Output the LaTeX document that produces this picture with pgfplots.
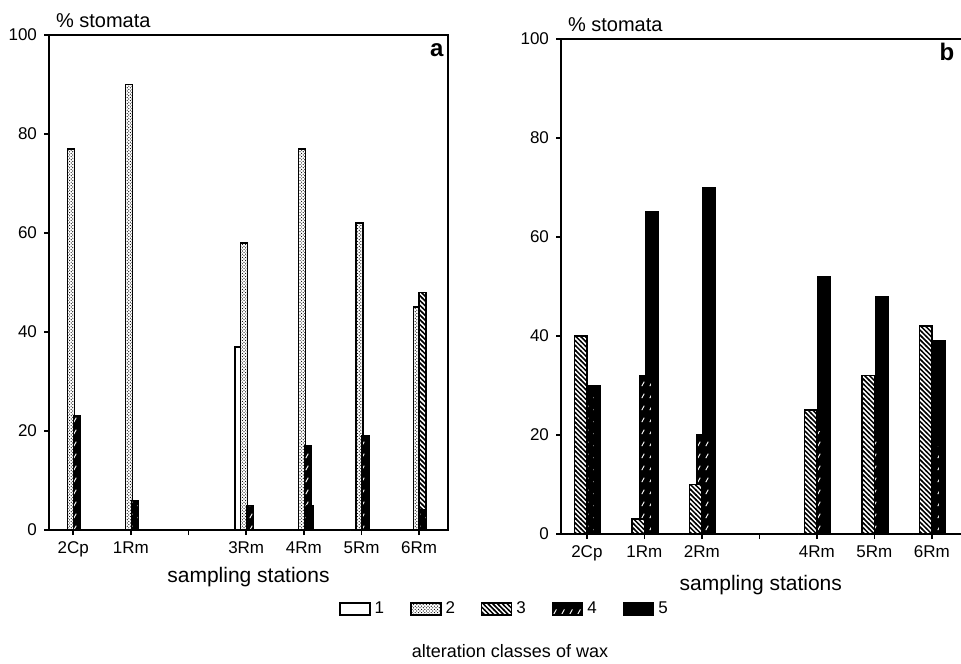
\documentclass[border=0pt]{standalone}
\usepackage{fontspec}
\setmainfont{Liberation Sans}
\usepackage{pgfplots}
\pgfplotsset{compat=1.18}
\usepackage{pgfplotstable}
\usetikzlibrary{patterns}

\pgfdeclarepatternformonly{stipple}{\pgfqpoint{-0.5pt}{-0.5pt}}{\pgfqpoint{2.5pt}{2.5pt}}{\pgfqpoint{1.6pt}{1.6pt}}{%
  \pgfpathcircle{\pgfqpoint{0.4pt}{0.4pt}}{0.3pt}%
  \pgfpathcircle{\pgfqpoint{1.2pt}{1.2pt}}{0.3pt}%
  \pgfusepath{fill}}
\pgfdeclarepatternformonly{hatch}{\pgfqpoint{-1pt}{-1pt}}{\pgfqpoint{3.4pt}{3.4pt}}{\pgfqpoint{2.4pt}{2.4pt}}{%
  \pgfsetlinewidth{0.75pt}%
  \pgfpathmoveto{\pgfqpoint{-0.2pt}{2.6pt}}%
  \pgfpathlineto{\pgfqpoint{2.6pt}{-0.2pt}}%
  \pgfusepath{stroke}}
\pgfdeclarepatternformonly{sparsedash}{\pgfqpoint{0pt}{0pt}}{\pgfqpoint{4pt}{6pt}}{\pgfqpoint{4pt}{6pt}}{%
  \pgfsetlinewidth{0.5pt}%
  \pgfpathmoveto{\pgfqpoint{1.0pt}{1pt}}%
  \pgfpathlineto{\pgfqpoint{2.4pt}{3.4pt}}%
  \pgfusepath{stroke}}

\pgfplotsset{
  legimg/.style={legend image code/.code={\draw[##1] (0pt,-3pt) rectangle (15pt,3pt);}},
  c1/.style={draw=black, fill=white, line width=0.75pt, legimg},
  c2/.style={draw=black, fill=white, line width=0.75pt, postaction={pattern=stipple}, legimg},
  c3/.style={draw=black, fill=white, line width=0.75pt, postaction={pattern=hatch}, legimg},
  c4/.style={draw=black, fill=black, line width=0.75pt, postaction={pattern=sparsedash, pattern color=white}, legimg},
  c5/.style={draw=black, fill=black, line width=0.75pt, legimg},
  panel/.style={
    scale only axis, ybar, ymin=0, ymax=100,
    xtick={0,...,6}, ytick={0,20,...,100},
    tick pos=left, tick align=outside, major tick length=2.5pt,
    axis line style={line width=0.9pt},
    every tick/.style={black, line width=0.8pt},
    ticklabel style={font=\fontsize{8.5}{10}\selectfont},
    /pgf/number format/assume math mode=true,
    every axis y label/.style={at={(axis description cs:0,1)}, anchor=base west, yshift=3.5pt, font=\fontsize{10}{12}\selectfont},
    ylabel={\% stomata},
  },
}

\pgfplotstableread{
x c1 c2 c3 c4 c5
0 0 77 0 23 0
1 0 90 0 6 0
3 37 58 0 5 0
4 0 77 0 17 5
5 0 62 0 19 0
6 0 45 48 4 0
}\dataA

\pgfplotstableread{
x c1 c2 c3 c4 c5
0 0 0 40 28 30
1 0 0 3 32 65
2 0 0 10 20 70
4 0 0 25 21 52
5 0 0 32 19 48
6 0 0 42 18 39
}\dataB

\begin{document}
\begin{tikzpicture}
\useasboundingbox (0,0) rectangle (480.5pt,331.5pt);

\begin{axis}[panel,
  at={(24.5pt,66.5pt)}, anchor=south west,
  width=199.5pt, height=247.5pt,
  xmin=-0.42, xmax=6.5,
  xticklabels={2Cp,1Rm,,3Rm,4Rm,5Rm,6Rm},
  bar width=3.5pt,
  xlabel={sampling stations},
  every axis x label/.style={at={(axis description cs:0.5,0)}, anchor=center, yshift=-23.5pt, font=\fontsize{10.5}{12}\selectfont},
  legend columns=5,
  legend style={at={(axis description cs:1.144,-0.1596)}, anchor=center, draw=none, fill=none,
    font=\fontsize{8.5}{10}\selectfont,
    /tikz/every even column/.append style={column sep=11pt}},
]
\addplot[c1, bar shift=-3.75pt] table[x=x,y=c1]{\dataA};
\addplot[c2, bar shift=-1pt] table[x=x,y=c2]{\dataA};
\addplot[c3, bar shift=1.75pt] table[x=x,y=c3]{\dataA};
\addplot[c4, bar shift=2pt] table[x=x,y=c4]{\dataA};
\addplot[c5, bar shift=3pt] table[x=x,y=c5]{\dataA};
\legend{1,2,3,4,5}
\node[font=\bfseries\fontsize{12}{14}\selectfont] at (axis description cs:0.972,0.970) {a};
\end{axis}

\begin{axis}[panel, name=bax,
  at={(280.5pt,64.5pt)}, anchor=south west,
  width=199.8pt, height=247.5pt,
  xmin=-0.45, xmax=6.5,
  axis x line*=bottom, axis y line*=left,
  xticklabels={2Cp,1Rm,2Rm,,4Rm,5Rm,6Rm},
  bar width=6.25pt,
  xlabel={sampling stations},
  every axis x label/.style={at={(axis description cs:0.5,0)}, anchor=center, yshift=-25.5pt, font=\fontsize{10.5}{12}\selectfont},
]
\addplot[c1, bar shift=-6pt] table[x=x,y=c1]{\dataB};
\addplot[c2, bar shift=-4pt] table[x=x,y=c2]{\dataB};
\addplot[c5, bar shift=3.75pt] table[x=x,y=c5]{\dataB};
\addplot[c4, bar shift=0.75pt] table[x=x,y=c4]{\dataB};
\addplot[c3, bar shift=-3pt] table[x=x,y=c3]{\dataB};
\node[font=\bfseries\fontsize{12}{14}\selectfont] at (axis description cs:0.966,0.974) {b};
\end{axis}
\draw[line width=0.9pt] (bax.north west) -- (bax.north east);

\node[font=\fontsize{9}{11}\selectfont] at (255pt,6pt) {alteration classes of wax};
\end{tikzpicture}
\end{document}
